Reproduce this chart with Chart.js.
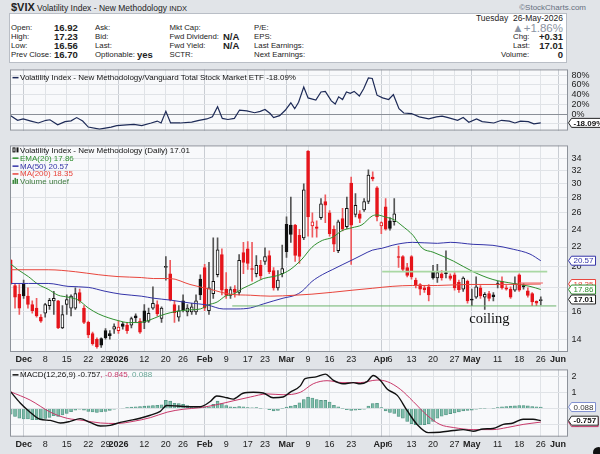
<!DOCTYPE html>
<html lang="en">
<head>
<meta charset="UTF-8">
<title>$VIX Volatility Index</title>
<script src="https://cdn.jsdelivr.net/npm/chart.js"></script>
<style>
  body { margin: 0; width: 600px; height: 454px; background: #e1e4e8; position: relative; overflow: hidden;
         font-family: "Liberation Sans", Arial, sans-serif; color: #222; }
  .t { position: absolute; white-space: nowrap; font-size: 7.8px; line-height: 10px; }
  .b { font-weight: bold; font-size: 9.5px; }
  #box { position: absolute; left: 9px; top: 13px; width: 556px; height: 48px; background: #fff; border: 1px solid #b9bec6; }
  canvas { position: absolute; left: 0; }
  #grip { position: absolute; right: -4px; bottom: -4px; width: 11px; height: 11px; border-radius: 50%; background: #111; }
</style>
</head>
<body>
<div id="box"></div>
<div class="t" style="left:11px;top:1px;line-height:12px"><b style="font-size:11px">$VIX</b> <span style="font-size:8.5px">Volatility Index - New Methodology</span> <span style="font-size:7.5px">INDX</span></div>
<div class="t" style="right:14px;top:2.5px;font-size:8px;color:#667080">&copy;StockCharts.com</div>

<div class="t" style="right:37px;top:13.2px;font-size:8.5px">Tuesday&nbsp; 26-May-2026</div>
<div class="t" style="right:37px;top:22px;font-size:11.5px;line-height:12px;color:#8b94a3">&#9650;+1.86%</div>

<div class="t" style="left:11px;top:23px">Open:</div><div class="t b" style="left:54px;top:23px">16.92</div>
<div class="t" style="left:11px;top:32px">High:</div><div class="t b" style="left:54px;top:32px">17.23</div>
<div class="t" style="left:11px;top:41px">Low:</div><div class="t b" style="left:54px;top:41px">16.56</div>
<div class="t" style="left:11px;top:49.7px">Prev Close:</div><div class="t b" style="left:54px;top:49.7px">16.70</div>

<div class="t" style="left:95px;top:23px">Ask:</div>
<div class="t" style="left:95px;top:32px">Bid:</div>
<div class="t" style="left:95px;top:41px">Last:</div>
<div class="t" style="left:95px;top:49.7px">Optionable:</div><div class="t b" style="left:137px;top:49.7px">yes</div>

<div class="t" style="left:169.5px;top:23px">Mkt Cap:</div>
<div class="t" style="left:169.5px;top:32px">Fwd Dividend:</div><div class="t b" style="left:223px;top:32px">N/A</div>
<div class="t" style="left:169.5px;top:41px">Fwd Yield:</div><div class="t b" style="left:223px;top:41px">N/A</div>
<div class="t" style="left:169.5px;top:49.7px">SCTR:</div>

<div class="t" style="left:254px;top:23px">P/E:</div>
<div class="t" style="left:254px;top:32px">EPS:</div>
<div class="t" style="left:254px;top:41px">Last Earnings:</div>
<div class="t" style="left:254px;top:49.7px">Next Earnings:</div>

<div class="t" style="left:513px;top:32px">Chg:</div><div class="t b" style="right:37px;top:32px">+0.31</div>
<div class="t" style="left:513px;top:41px">Last:</div><div class="t b" style="right:37px;top:41px">17.01</div>
<div class="t" style="left:501px;top:49.7px">Volume:</div><div class="t b" style="right:37px;top:49.7px">0</div>

<canvas id="ratioChart" width="600" height="80" style="top:60px"></canvas>
<canvas id="priceChart" width="600" height="230" style="top:136px"></canvas>
<canvas id="macdChart" width="600" height="94" style="top:360px"></canvas>
<div id="grip"></div>

<script>
// ---- x axis: trading-day index, 0 = 25-Nov-2025 ----
const tickDay  = [3, 8, 13, 18, 22, 25, 31, 36, 40, 45, 50, 55, 59, 64, 69, 74, 79, 86, 88, 93, 98, 103, 107, 113, 118, 123, 127];
const tickText = ['Dec','8','15','22','29','2026','12','20','26','Feb','9','17','23','Mar','9','16','23','Apr','6','13','20','27','May','11','18','26','Jun'];
const boldTicks = ['Dec','2026','Feb','Mar','Apr','May','Jun'];

// ---- daily candles ----
const opens = [20.6,18.2,17.45,18.4,17.3,16.6,16.3,15.6,15.9,16.5,
  16.9,16.9,14.8,16.6,16.3,16.3,17.6,16.3,15.2,14.4,
  14.0,14.05,14.6,14.4,14.7,14.6,15.1,15.0,15.0,15.7,
  15.3,16.1,15.3,16.3,16.6,15.5,19.9,19.3,16.6,15.6,
  16.9,16.0,16.0,16.0,18.8,19.9,16.1,17.5,19.2,21.2,
  17.9,17.35,17.9,17.6,21.4,21.8,19.8,19.3,20.1,20.5,
  21.1,19.6,18.0,19.3,24.6,24.5,24.5,23.3,23.0,35.2,
  24.4,24.3,25.4,27.5,26.0,24.0,21.6,25.3,24.3,30.1,
  25.8,25.9,26.4,27.5,31.0,29.4,24.4,26.8,25.0,24.9,
  21.0,21.0,19.9,21.0,18.7,18.3,18.0,18.1,19.5,18.9,
  19.3,19.4,19.1,19.2,18.5,17.9,18.6,17.05,17.2,18.0,
  17.2,17.5,17.4,18.35,18.6,18.0,17.9,17.8,19.2,18.2,
  17.75,17.5,16.85,16.92];
const highs = [20.7,18.4,18.3,18.7,18.0,16.9,17.1,15.8,16.7,17.1,
  17.7,16.95,16.5,17.4,17.4,18.0,17.9,16.5,15.3,14.5,
  14.1,14.1,14.75,14.6,15.1,15.3,15.2,15.2,15.6,15.85,
  15.5,16.6,16.3,18.1,16.9,16.4,21.0,20.6,16.9,16.5,
  17.4,16.6,16.7,17.4,19.2,20.2,20.4,23.0,23.0,21.8,
  19.4,18.1,18.2,21.2,22.5,22.6,22.5,21.1,20.6,21.9,
  21.6,19.9,19.6,22.2,25.5,28.1,24.6,24.0,30.0,35.3,
  26.0,25.0,27.9,28.4,26.3,24.4,25.1,26.6,28.1,31.0,
  28.6,26.3,27.9,32.1,31.8,29.6,24.9,27.9,25.4,27.9,
  22.1,21.1,20.3,21.1,18.9,18.4,18.2,18.3,20.1,20.2,
  19.6,21.6,19.3,19.4,18.7,19.0,18.7,17.9,19.0,18.2,
  17.6,17.7,17.6,18.6,19.0,18.2,18.1,19.0,19.3,18.4,
  18.0,17.6,16.9,17.23];
const lows = [18.3,16.3,15.8,17.1,16.3,15.9,15.6,15.2,15.6,16.2,
  15.8,14.75,14.75,15.8,15.7,16.2,16.7,15.1,14.1,13.6,
  13.4,13.45,14.0,14.0,14.4,14.4,14.7,14.4,14.8,15.2,
  14.4,14.75,15.2,16.2,15.7,15.2,18.7,16.9,15.2,15.3,
  16.0,15.7,15.8,15.8,17.0,16.1,15.8,17.1,19.0,17.4,
  17.1,17.1,17.2,17.4,19.3,19.7,18.6,19.0,18.8,20.2,
  19.3,17.8,17.8,19.0,20.9,22.5,20.5,20.3,22.8,23.2,
  23.1,23.1,25.2,24.8,23.2,21.5,21.4,23.8,24.1,20.2,
  25.5,24.8,26.2,27.2,30.4,25.0,23.5,23.9,23.9,24.5,
  19.9,19.5,19.0,18.8,18.0,17.4,17.6,16.9,18.8,18.5,
  18.7,18.9,18.7,17.8,17.6,17.7,16.7,16.5,17.1,17.1,
  16.2,16.9,16.9,18.0,17.9,17.8,17.1,17.7,17.7,17.9,
  17.2,16.5,16.5,16.56];
const closes = [18.4,17.2,16.3,17.3,16.6,16.1,15.7,15.3,16.6,16.95,
  17.1,14.8,15.8,17.0,17.3,17.5,16.9,15.2,14.3,13.7,
  13.5,13.6,14.1,14.25,14.9,14.85,14.9,14.6,15.5,15.55,
  14.5,15.2,15.9,16.7,15.85,16.3,20.0,17.0,15.95,16.1,
  16.15,16.3,16.4,16.9,17.4,16.3,18.0,18.6,21.7,17.8,
  17.35,17.85,17.6,20.6,20.4,20.3,19.7,20.1,19.1,21.0,
  19.5,18.0,18.7,19.8,21.5,23.4,21.1,21.0,29.1,25.5,
  24.9,24.1,27.2,27.0,23.5,22.3,24.9,24.0,26.6,24.5,
  27.0,25.3,27.5,31.3,30.7,25.5,24.8,24.0,24.1,25.9,
  20.9,19.7,19.15,19.0,18.3,17.9,17.85,17.4,18.9,19.4,
  18.9,19.3,18.85,18.0,17.85,18.9,16.9,16.95,18.1,17.3,
  17.45,17.1,17.25,18.3,18.0,17.9,17.2,18.4,17.8,18.1,
  17.35,16.8,16.70,17.01];

// ---- overlays ----
const emaDays = [0,1.7,4.1,6.4,8.7,11,13.3,15.7,18,20.3,22.6,24.9,27.3,29.6,31.9,34.7,37,39.3,41.6,44,
  45.8,47.9,49.8,51.6,53.9,56.3,58.6,60.9,62.5,64.8,67.6,69.9,72.3,74.6,76.9,79.2,81.5,83.9,85,86.9,
  89,90.8,93.4,95.5,98,102.7,107.3,111.9,116.6,120.5,123];
const emaVals = [20.25,19.68,19.03,18.31,17.88,17.37,17.21,16.96,16.32,15.86,15.56,15.34,15.19,15.19,15.34,15.71,15.94,16.09,16.17,16.24,
  16.56,16.80,17.29,17.46,17.97,18.40,18.85,19.03,19.21,19.68,20.74,21.97,22.72,23.05,23.84,24.18,24.53,25.62,25.74,25.49,
  25.13,24.42,23.27,21.87,21.45,20.54,19.49,18.76,18.40,18.14,17.86];
const ma50Days = [0.1,4.1,8.7,13.3,18,21.9,25.6,30.3,33.1,37,41.6,45.6,49.3,52.5,55.6,58.6,63.2,66,67.6,69.9,
  72.3,74.6,76.9,79.2,81.5,83.9,86.2,88.5,90.8,93.2,99,102,107.3,111.9,116.6,120.5,123];
const ma50Vals = [18.40,18.40,18.40,18.14,18.05,17.71,17.46,17.29,17.12,16.96,16.72,16.56,16.24,16.24,16.32,16.64,17.12,17.37,17.71,18.58,
  19.21,19.68,20.16,20.64,21.15,21.66,21.87,22.18,22.40,22.51,22.40,22.51,22.29,22.18,21.76,21.25,20.57];
const ma200Days = [0.1,8.7,15,20.3,24.9,30.3,33.1,37,41.6,46.3,50.9,55.6,60.2,66,69.9,74.6,79.2,83.9,88.5,93.2,99,105.9,113.6,123];
const ma200Vals = [19.68,19.68,19.49,19.21,19.03,18.94,18.85,18.85,18.31,17.88,17.46,17.37,17.29,17.37,17.46,17.62,17.80,17.97,18.14,18.22,18.22,18.31,18.31,18.35];
// hand-drawn lines on the chart
const lowLineDays = [51.4, 126.6], lowLineVals = [16.48, 16.48];
const topLineDays = [86.2, 124.5], topLineVals = [19.5, 19.5];
const pinkLineDays = [118, 123.5], pinkLineVals = [18.45, 18.45];
const priceTicks = [14, 16, 18, 20, 22, 24, 26, 28, 30, 32, 34];

// ---- ratio panel ($VIX : VTI, % change) ----
const ratioDays = [0,1.6,2.9,4.7,6.4,8.2,9.1,10.9,12.6,14,15.3,16.7,18,20.6,23.3,24.6,26.9,28.6,30.4,32.6,
  34,34.9,36,37.1,39.3,42,43.7,45.5,46.8,48,49.1,50.4,51.9,53.1,54.8,56.6,57.9,59,60.2,61,
  62.4,63.7,65,65.9,66.8,68,69,70.8,72,73,74.4,75.3,76.1,77,77.9,78.8,79.7,80.9,81.9,83,
  83.9,85,86.3,87.7,88.8,90.1,91.2,93,94.8,97,98.8,100.1,101.5,103.7,105,106.3,108.1,109.4,112.1,113.9,
  115.7,117,118.3,120.1,121.4,123];
const ratioVals = [-3.3,-12.8,-10,-14.4,-18.3,-12.8,-11.7,-22.2,-15.6,-13.9,-7.2,-14.4,-26.7,-31.1,-26.7,-23.9,-22.2,-21.1,-23.9,-18.3,
  -14.4,-18.3,5.6,-18.3,-18.3,-16.7,-12.8,-10,-5.6,15,-8.9,-11.1,-8.9,8.3,6.7,2.8,5.6,9.4,1.1,-7.2,
  -3.3,7.8,23.3,11.1,24.4,55.6,33.3,28.9,45.6,46.7,27.2,20.6,35.6,30,45.6,42.8,46.7,37.2,52.2,74.4,
  73.3,38.9,33.3,30,40,11.1,2.2,1.1,-5.6,-10,-5.6,-4.4,-7.2,-12.8,-7.2,-16.7,-10,-15.6,-18.3,-12.8,
  -14.4,-18.3,-14.4,-15.6,-20,-18.09];
const ratioTicks = [-20, 0, 20, 40, 60, 80];

// ---- MACD(12,26,9) ----
const macdDays = [0,2.2,4.5,6.8,9.2,11.5,13.8,16.1,18.4,20.8,23.1,25.4,27.7,30,32.4,34.7,36.2,38.6,40.9,44,
  46.3,47.8,50.2,51.6,53.9,56.3,58.6,60.9,63.2,64.8,67.2,68.3,70.6,73,74.8,77.1,79.5,81.1,82.7,84.1,
  85.7,87.4,89.7,92,94.3,96.9,99.6,102.7,105,107.3,109.6,111.9,114.3,116.6,118.9,121.2,123];
const macdVals = [1.03,0.34,-0.23,-0.67,-0.74,-0.9,-0.8,-0.63,-0.86,-1.09,-1.05,-0.86,-0.74,-0.61,-0.42,-0.18,0.18,0.15,0.11,0.11,
  0.43,0.77,0.66,0.58,0.94,1.0,0.96,0.66,0.71,1.0,1.4,1.85,1.94,2.13,1.76,1.53,1.6,1.53,1.66,2.04,
  1.76,1.19,0.81,-0.14,-0.99,-1.5,-1.47,-1.37,-1.31,-1.41,-1.27,-1.24,-0.99,-0.9,-0.67,-0.67,-0.757];
const signalDays = [0,4.5,9.2,13.1,16.8,20.8,24.7,28.4,32.4,36.3,40,44,47.9,51.6,55.6,59.5,63.2,67.2,70.2,73.4,
  77.1,81.1,85,87.4,90.4,93.4,96.6,99.6,102.7,107.3,111.9,115.2,118.9,123];
const signalVals = [1.03,0.52,-0.23,-0.61,-0.74,-0.9,-0.93,-0.8,-0.57,-0.23,-0.05,0.05,0.24,0.47,0.71,0.9,0.85,1.0,1.53,1.72,
  1.6,1.6,1.76,1.66,1.19,0.43,-0.42,-0.99,-1.18,-1.31,-1.31,-1.18,-0.99,-0.845];
const histVals = [-0.35,-0.5,-0.6,-0.65,-0.65,-0.7,-0.7,-0.68,-0.62,-0.55,
  -0.45,-0.5,-0.4,-0.3,-0.2,-0.1,-0.05,-0.1,-0.18,-0.22,
  -0.25,-0.22,-0.18,-0.12,-0.05,0.0,0.03,0.06,0.08,0.1,
  0.12,0.14,0.16,0.18,0.2,0.22,0.5,0.45,0.32,0.3,
  0.25,0.18,0.12,0.1,0.12,0.08,0.1,0.25,0.45,0.3,
  0.18,0.1,0.08,0.12,0.1,0.06,0.04,0.05,0.02,0.0,
  -0.08,-0.15,-0.12,-0.02,0.08,0.15,0.2,0.35,0.55,0.7,
  0.65,0.55,0.5,0.5,0.4,0.2,0.1,-0.02,-0.08,-0.12,
  -0.1,-0.08,-0.05,0.15,0.3,0.32,0.05,-0.15,-0.25,-0.3,
  -0.5,-0.6,-0.8,-0.95,-1.0,-1.02,-1.0,-0.95,-0.8,-0.6,
  -0.48,-0.4,-0.32,-0.28,-0.22,-0.15,-0.12,-0.1,-0.05,-0.03,
  -0.02,0.0,0.02,0.06,0.1,0.12,0.14,0.16,0.18,0.18,
  0.16,0.12,0.1,0.088];
const macdTicks = [-1, 0, 1, 2];

// ---- styling ----
const FONT = '"Liberation Sans", Arial, sans-serif';
const RED = '#e5141b', BLACK = '#111111';
const GREEN = '#2f8f2f', BLUE = '#3434a8', MA_RED = '#e8453c', SIG = '#c8396a';

const pts = (xs, ys) => xs.map((x, i) => ({ x: x, y: ys[i] }));
const last = a => a[a.length - 1];

const candleCol = closes.map((c, i) => c < (i ? closes[i - 1] : opens[0]) ? RED : BLACK);
const candleFill = closes.map((c, i) => c < opens[i] ? candleCol[i] : '#ffffff');

function tag(ctx, area, y, text, stroke, fg, bold) {
  ctx.font = (bold ? 'bold ' : '') + '8px ' + FONT;
  const w = ctx.measureText(text).width + 4;
  const x0 = area.right + 1, x1 = x0 + 3;
  ctx.beginPath();
  ctx.moveTo(x0, y); ctx.lineTo(x1, y - 4.5); ctx.lineTo(x1 + w, y - 4.5);
  ctx.lineTo(x1 + w, y + 4.5); ctx.lineTo(x1, y + 4.5); ctx.closePath();
  ctx.fillStyle = '#ffffff'; ctx.fill();
  ctx.strokeStyle = stroke; ctx.lineWidth = 1; ctx.stroke();
  ctx.fillStyle = fg; ctx.textAlign = 'left'; ctx.textBaseline = 'middle';
  ctx.fillText(text, x1 + 2, y + 0.5);
}

// panel background, border, legend text, notes and last-value tags
const deco = {
  id: 'deco',
  beforeDraw(chart) {
    const { ctx, chartArea: a } = chart;
    ctx.save();
    ctx.fillStyle = '#f8f9fb';
    ctx.fillRect(a.left, a.top, a.width, a.height);
    ctx.restore();
  },
  afterDraw(chart, args, o) {
    const { ctx, chartArea: a } = chart;
    ctx.save();
    ctx.strokeStyle = '#8d929a'; ctx.lineWidth = 1;
    ctx.strokeRect(a.left, a.top + 0.5, a.width, a.height - 1);
    (o.legend || []).forEach(it => {
      const x = a.left + 2, y = a.top + it.dy;
      ctx.fillStyle = it.iconColor || BLACK;
      if (it.icon === 'line') {
        ctx.fillRect(x, y - 0.5, 6, 1.5);
      } else if (it.icon === 'candle') {
        ctx.strokeStyle = BLACK; ctx.strokeRect(x + 0.5, y - 2.5, 2, 4);
        ctx.fillStyle = BLACK; ctx.fillRect(x + 4, y - 3, 2, 5);
      } else if (it.icon === 'bars') {
        ctx.fillRect(x, y - 1, 1.5, 4); ctx.fillRect(x + 2, y - 3, 1.5, 6); ctx.fillRect(x + 4, y - 2, 1.5, 5);
      }
      let tx = a.left + 9.5;
      ctx.font = '8px ' + FONT; ctx.textAlign = 'left'; ctx.textBaseline = 'middle';
      it.parts.forEach(p => { ctx.fillStyle = p[1]; ctx.fillText(p[0], tx, y + 0.5); tx += ctx.measureText(p[0]).width; });
    });
    (o.notes || []).forEach(n => {
      ctx.font = '14.5px "Liberation Serif", "Times New Roman", serif';
      ctx.fillStyle = '#111'; ctx.textAlign = 'left'; ctx.textBaseline = 'middle';
      ctx.fillText(n.text, chart.scales.x.getPixelForValue(n.day), chart.scales.y.getPixelForValue(n.value));
    });
    (o.tags || []).forEach(t => tag(ctx, a, chart.scales.y.getPixelForValue(t.value), t.text, t.stroke, t.fg, t.bold));
    ctx.restore();
  }
};

function xAxis(showLabels, h) {
  return {
    type: 'linear', min: -0.05, max: 129.2, offset: false,
    afterBuildTicks: s => { s.ticks = tickDay.map(v => ({ value: v })); },
    afterFit: s => { s.height = h; },
    border: { display: false },
    grid: { offset: false, drawTicks: false,
            color: c => boldTicks.includes(tickText[c.index]) ? '#c9cdd3' : '#e0e3e7' },
    ticks: {
      display: showLabels, autoSkip: false, maxRotation: 0, padding: 2, color: '#222',
      font: c => ({ family: FONT, size: 9, weight: boldTicks.includes(tickText[c.index]) ? 'bold' : 'normal' }),
      callback: (v, i) => tickText[i]
    }
  };
}

function yAxis(extra, ticks, fmt, zeroDark) {
  return Object.assign({
    position: 'right',
    afterBuildTicks: s => { s.ticks = ticks.map(v => ({ value: v })); },
    afterFit: s => { s.width = 32.5; },
    border: { display: false },
    grid: { drawTicks: false, color: c => (zeroDark && c.tick && c.tick.value === 0) ? '#8a8f97' : '#e0e3e7' },
    ticks: { autoSkip: false, padding: 4, color: '#222', font: { family: FONT, size: 9 }, callback: fmt }
  }, extra);
}

const common = { responsive: false, animation: false, events: [] };

// ---- ratio panel ----
new Chart(document.getElementById('ratioChart'), {
  type: 'line',
  data: { datasets: [{ data: pts(ratioDays, ratioVals), borderColor: '#1d2a57', borderWidth: 1.2, pointRadius: 0, tension: 0 }] },
  options: Object.assign({}, common, {
    layout: { padding: { left: 10.5, right: 0, top: 3, bottom: 3 } },
    scales: {
      x: xAxis(false, 0),
      y: yAxis({ type: 'linear', min: -34, max: 92 }, ratioTicks, v => v + '%', true)
    },
    plugins: {
      legend: { display: false }, tooltip: { enabled: false },
      deco: {
        legend: [{ dy: 8, icon: 'line', iconColor: '#1d2a57',
                   parts: [['Volatility Index - New Methodology/Vanguard Total Stock Market ETF -18.09%', '#111']] }],
        tags: [{ value: last(ratioVals), text: last(ratioVals).toFixed(2) + '%', stroke: '#222', fg: '#111', bold: true }]
      }
    }
  }),
  plugins: [deco]
});

// ---- price panel ----
const dayIdx = closes.map((c, i) => i);
new Chart(document.getElementById('priceChart'), {
  type: 'bar',
  data: { datasets: [
    { type: 'line', data: pts(lowLineDays, lowLineVals), borderColor: '#6cb36c', borderWidth: 1, pointRadius: 0, order: 0 },
    { type: 'line', data: pts(topLineDays, topLineVals), borderColor: '#a9d8a3', borderWidth: 1.6, pointRadius: 0, order: 0 },
    { type: 'line', data: pts(pinkLineDays, pinkLineVals), borderColor: 'rgba(240,110,110,0.55)', borderWidth: 2, pointRadius: 0, order: 0 },
    { type: 'line', data: pts(ma200Days, ma200Vals), borderColor: MA_RED, borderWidth: 1, pointRadius: 0, cubicInterpolationMode: 'monotone', order: 1 },
    { type: 'line', data: pts(ma50Days, ma50Vals), borderColor: BLUE, borderWidth: 1, pointRadius: 0, cubicInterpolationMode: 'monotone', order: 1 },
    { type: 'line', data: pts(emaDays, emaVals), borderColor: GREEN, borderWidth: 1, pointRadius: 0, cubicInterpolationMode: 'monotone', order: 1 },
    { data: dayIdx.map(i => ({ x: i, y: [Math.min(opens[i], closes[i]), Math.max(opens[i], closes[i])] })),
      backgroundColor: candleFill, borderColor: candleCol, borderWidth: 1, borderSkipped: false,
      barThickness: 3, minBarLength: 1, grouped: false, order: 2 },
    { data: dayIdx.map(i => ({ x: i, y: [lows[i], highs[i]] })),
      backgroundColor: candleCol.map(c => c === RED ? '#ee5a5e' : '#555'), barThickness: 1, grouped: false, order: 3 }
  ] },
  options: Object.assign({}, common, {
    layout: { padding: { left: 10.5, right: 0, top: 5, bottom: 0 } },
    scales: {
      x: xAxis(true, 14),
      y: yAxis({ type: 'logarithmic', min: 13.15, max: 36.2 }, priceTicks, v => String(v), false)
    },
    plugins: {
      legend: { display: false }, tooltip: { enabled: false },
      deco: {
        legend: [
          { dy: 5, icon: 'candle', parts: [['Volatility Index - New Methodology (Daily) ' + last(closes).toFixed(2), '#111']] },
          { dy: 12.5, icon: 'line', iconColor: GREEN, parts: [['EMA(20) ' + last(emaVals).toFixed(2), GREEN]] },
          { dy: 20.5, icon: 'line', iconColor: BLUE, parts: [['MA(50) ' + last(ma50Vals).toFixed(2), BLUE]] },
          { dy: 28.3, icon: 'line', iconColor: MA_RED, parts: [['MA(200) ' + last(ma200Vals).toFixed(2), MA_RED]] },
          { dy: 35.5, icon: 'bars', iconColor: '#3d8a3d', parts: [['Volume undef', '#3d7a3d']] }
        ],
        notes: [{ text: 'coiling', day: 106.4, value: 15.48 }],
        tags: [
          { value: last(ma50Vals), text: last(ma50Vals).toFixed(2), stroke: BLUE, fg: BLUE },
          { value: last(ma200Vals), text: last(ma200Vals).toFixed(2), stroke: MA_RED, fg: MA_RED },
          { value: last(emaVals), text: last(emaVals).toFixed(2), stroke: GREEN, fg: GREEN },
          { value: last(closes), text: last(closes).toFixed(2), stroke: '#222', fg: '#111', bold: true }
        ]
      }
    }
  }),
  plugins: [deco]
});

// ---- MACD panel ----
new Chart(document.getElementById('macdChart'), {
  type: 'bar',
  data: { datasets: [
    { type: 'line', data: pts(macdDays, macdVals), borderColor: '#111', borderWidth: 1.4, pointRadius: 0, cubicInterpolationMode: 'monotone', order: 0 },
    { type: 'line', data: pts(signalDays, signalVals), borderColor: SIG, borderWidth: 1, pointRadius: 0, cubicInterpolationMode: 'monotone', order: 1 },
    { data: histVals.map((v, i) => ({ x: i, y: v })), backgroundColor: 'rgba(118,184,164,0.9)', borderColor: '#4f8f7e',
      borderWidth: 0.6, barThickness: 3, grouped: false, order: 2 }
  ] },
  options: Object.assign({}, common, {
    layout: { padding: { left: 10.5, right: 0, top: 3.3, bottom: 0 } },
    scales: {
      x: xAxis(true, 17.3),
      y: yAxis({ type: 'linear', min: -1.75, max: 2.42 }, macdTicks, v => String(v), false)
    },
    plugins: {
      legend: { display: false }, tooltip: { enabled: false },
      deco: {
        legend: [{ dy: 5.2, icon: 'line', iconColor: '#111',
                   parts: [['MACD(12,26,9) ' + last(macdVals).toFixed(3), '#111'], [', ' + last(signalVals).toFixed(3), SIG], [', ' + last(histVals).toFixed(3), '#6aa898']] }],
        tags: [
          { value: last(histVals), text: last(histVals).toFixed(3), stroke: '#7e8fd0', fg: '#333' },
          { value: last(signalVals), text: last(signalVals).toFixed(3), stroke: SIG, fg: SIG },
          { value: last(macdVals), text: last(macdVals).toFixed(3), stroke: '#222', fg: '#111', bold: true }
        ]
      }
    }
  }),
  plugins: [deco]
});
</script>
</body>
</html>
